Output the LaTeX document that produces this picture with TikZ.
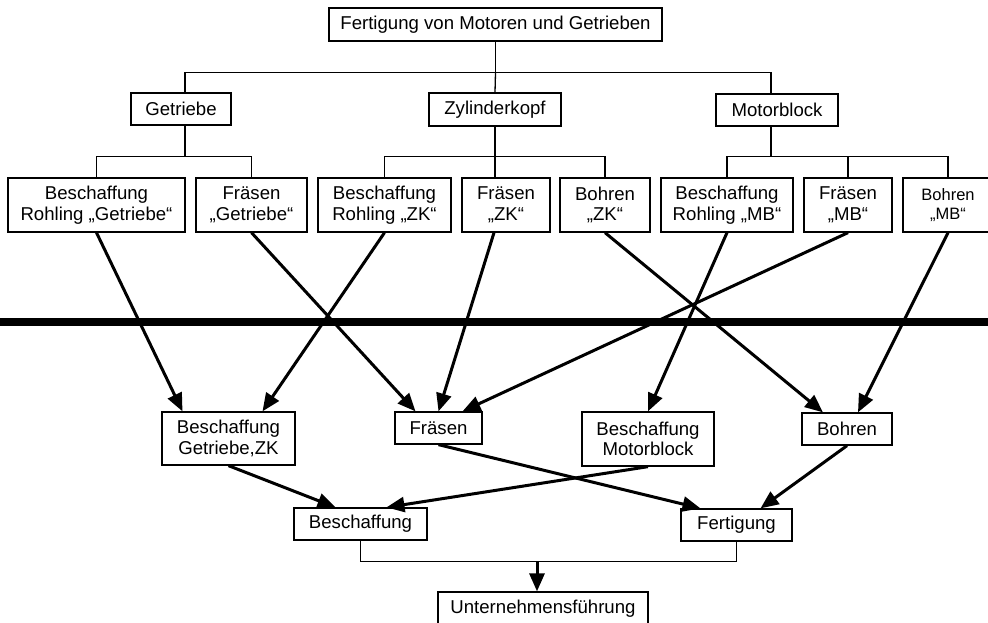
\documentclass[tikz,border=0pt]{standalone}
\usepackage{fontspec}
\setmainfont{Liberation Sans}
\usetikzlibrary{arrows.meta}
\begin{document}
\begin{tikzpicture}[x=1pt,y=-1pt,
  box/.style={draw, line width=1.3pt, inner sep=0pt, align=center,
    font=\fontsize{18.6}{20.5}\selectfont},
  small/.style={font=\fontsize{16.5}{19.5}\selectfont},
  tree/.style={line width=1.3pt},
  flow/.style={line width=3pt, -{Triangle[length=18pt,width=15pt]}},
  bar/.style={line width=8.5pt}]
\useasboundingbox (0,0) rectangle (988,622);
\begin{scope}
\clip (0,0) rectangle (988,622);

% level 0 and 1
\node[box, minimum width=333, minimum height=33] (top) at (495.5,24.5) {Fertigung von Motoren und Getrieben};
\node[box, minimum width=100, minimum height=32] (getr) at (181,109) {Getriebe};
\node[box, minimum width=132, minimum height=33] (zyl) at (495,109.5) {Zylinderkopf};
\node[box, minimum width=122, minimum height=32] (mot) at (777,110) {Motorblock};

% level 2
\node[box, minimum width=177, minimum height=54] (rg) at (96.5,205) {Beschaffung\\Rohling „Getriebe“};
\node[box, minimum width=111, minimum height=54] (fg) at (251.5,205) {Fräsen\\„Getriebe“};
\node[box, minimum width=133, minimum height=54] (rz) at (384.5,205) {Beschaffung\\Rohling „ZK“};
\node[box, minimum width=88, minimum height=54] (fz) at (506,205) {Fräsen\\„ZK“};
\node[box, minimum width=90, minimum height=54] (bz) at (605,205) {Bohren\\„ZK“};
\node[box, minimum width=132, minimum height=54] (rm) at (727,205) {Beschaffung\\Rohling „MB“};
\node[box, minimum width=88, minimum height=54] (fm) at (848,205) {Fräsen\\„MB“};
\node[box, small, minimum width=90, minimum height=54] (bm) at (948,205) {Bohren\\„MB“};

% level 3
\node[box, minimum width=133, minimum height=53] (bgz) at (228.5,438.5) {Beschaffung\\Getriebe,ZK};
\node[box, minimum width=87, minimum height=32] (fr) at (438.5,428) {Fräsen};
\node[box, minimum width=132, minimum height=54] (bmb) at (648,439) {Beschaffung\\Motorblock};
\node[box, minimum width=90, minimum height=32] (bo) at (847,429) {Bohren};

% level 4 and 5
\node[box, minimum width=133, minimum height=32] (be) at (360.5,524) {Beschaffung};
\node[box, minimum width=111, minimum height=32] (fe) at (736.5,525) {Fertigung};
\node[box, minimum width=210, minimum height=33] (uf) at (543,608.5) {Unternehmensführung};

% tree connectors
\path (top.south) ++(0,31) coordinate (bus0);
\draw[tree] (top.south) -- (bus0);
\draw[tree] ([xshift=4]getr.north) |- (bus0) -| ([xshift=-6]mot.north);
\draw[tree] (zyl.north) -- (bus0);

\path (rg.north) ++(0,-21) coordinate (busG);
\draw[tree] (rg.north) -- (busG) -| (fg.north);
\draw[tree] ([xshift=4]getr.south) -- ([xshift=4]getr.south |- busG);

\path (rz.north) ++(0,-21) coordinate (busZ);
\draw[tree] (rz.north) -- (busZ) -| (bz.north);
\draw[tree] (zyl.south) -- (zyl.south |- fz.north);

\path (rm.north) ++(0,-21) coordinate (busM);
\draw[tree] (rm.north) -- (busM) -| (bm.north);
\draw[tree] (fm.north) -- (fm.north |- busM);
\draw[tree] ([xshift=-6]mot.south) -- ([xshift=-6]mot.south |- busM);

% dividing bar
\coordinate (barL) at (0,322);
\coordinate (barR) at (988,322);
\draw[bar] (barL) -- (barR);

% flows across the bar
\draw[flow] (rg.south) -- ([xshift=-46]bgz.north);
\draw[flow] (fg.south) -- ([xshift=-23]fr.north);
\draw[flow] (rz.south) -- ([xshift=34]bgz.north);
\draw[flow] ([xshift=-12]fz.south) -- (fr.north);
\draw[flow] (fm.south) -- ([xshift=24]fr.north);
\draw[flow] (bz.south) -- ([xshift=-24]bo.north);
\draw[flow] (rm.south) -- (bmb.north);
\draw[flow] (bm.south) -- ([xshift=11]bo.north);

% lower flows
\draw[flow] (bgz.south) -- ([xshift=-25]be.north);
\draw[flow] (bmb.south) -- ([xshift=26]be.north);
\draw[flow] (fr.south) -- ([xshift=-36]fe.north);
\draw[flow] (bo.south) -- ([xshift=24]fe.north);

% joint into management
\path (be.south) ++(0,21) coordinate (busB);
\draw[tree] (be.south) -- (busB) -| (fe.south);
\draw[flow] ([xshift=-6]uf.north |- busB) -- ([xshift=-6]uf.north);
\end{scope}
\end{tikzpicture}
\end{document}
